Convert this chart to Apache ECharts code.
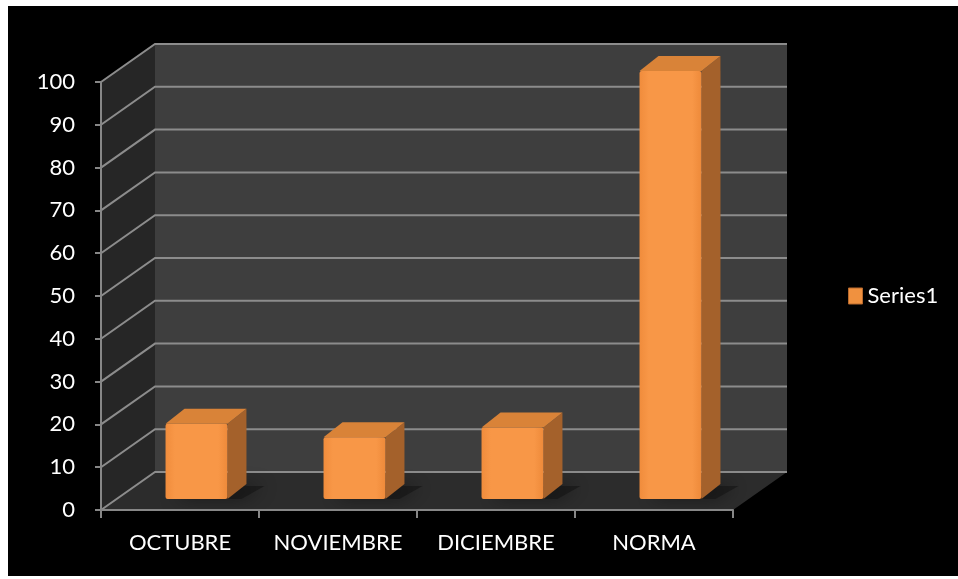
<!DOCTYPE html>
<html>
<head>
<meta charset="utf-8">
<script src="https://cdn.jsdelivr.net/npm/echarts@6/dist/echarts.min.js"></script>
<style>
html,body{margin:0;padding:0;background:#fff;}
#chart{width:958px;height:579px;}
</style>
</head>
<body>
<div id="chart"></div>
<script>
// ---- data ----
const categories = ['OCTUBRE', 'NOVIEMBRE', 'DICIEMBRE', 'NORMA'];
const seriesName = 'Series1';
const values = [17.6, 14.4, 16.7, 100];
const yTicks = [0, 10, 20, 30, 40, 50, 60, 70, 80, 90, 100];

// ---- projection style constants (pixels) ----
const DX = 54, DY = -38;          // full depth of the 3D box
const FDX = 16.5, FDY = -11;      // bar front face offset
const BDX = 35.5, BDY = -26;      // bar back face offset
const BAR_FRAC = 0.392;

const chart = echarts.init(document.getElementById('chart'), null, {renderer: 'canvas'});

function renderWalls(params, api) {
  const cs = params.coordSys;
  const L = cs.x, R = cs.x + cs.width, T = cs.y, B = cs.y + cs.height;
  return {
    type: 'group',
    children: [
      {type: 'polygon', shape: {points: [[L, B], [R, B], [R + DX, B + DY], [L + DX, B + DY]]}, style: {fill: '#2c2c2c'}},
      {type: 'polygon', shape: {points: [[L, B], [L + DX, B + DY], [L + DX, T + DY], [L, T]]}, style: {fill: '#262626'}},
      {type: 'polygon', shape: {points: [[L + DX, B + DY], [R + DX, B + DY], [R + DX, T + DY], [L + DX, T + DY]]}, style: {fill: '#3e3e3e'}}
    ]
  };
}

function renderGridLine(params, api) {
  const cs = params.coordSys;
  const y = api.coord([0, api.value(1)])[1];
  return {
    type: 'polyline',
    shape: {points: [[cs.x, y], [cs.x + DX, y + DY], [cs.x + cs.width + DX, y + DY]]},
    style: {stroke: '#8c8c8c', lineWidth: 2, fill: null}
  };
}

function renderBar(params, api) {
  const i = api.value(0), v = api.value(1);
  const base = api.coord([i, 0]);
  const top = api.coord([i, v]);
  const bw = api.size([1, 0])[0] * BAR_FRAC;
  const x0 = base[0] - bw / 2 + FDX, x1 = x0 + bw;
  const yb = base[1] + FDY, yt = top[1] + FDY;
  const bx = BDX - FDX, by = BDY - FDY;
  return {
    type: 'group',
    children: [
      {type: 'polygon', shape: {points: [[x0 + 8, yb], [x1 + 14, yb], [x1 + bx + 18, yb + by + 2], [x0 + bx + 6, yb + by + 2]]},
        style: {fill: 'rgba(18,18,18,0.55)', shadowBlur: 18, shadowColor: 'rgba(0,0,0,0.8)'}},
      {type: 'polygon', shape: {points: [[x1, yt], [x1 + bx, yt + by], [x1 + bx, yb + by], [x1, yb]]},
        style: {fill: '#a4612b'}},
      {type: 'polygon', shape: {points: [[x0, yt], [x1, yt], [x1 + bx, yt + by], [x0 + bx, yt + by]]},
        style: {fill: '#d98338'}},
      {type: 'rect', shape: {x: x0, y: yt, width: bw, height: yb - yt, r: 2},
        style: {fill: new echarts.graphic.LinearGradient(0, 0, 1, 0, [
          {offset: 0, color: '#f08c3c'}, {offset: 0.15, color: '#f89747'},
          {offset: 0.85, color: '#f89747'}, {offset: 1, color: '#ee8a3a'}])}}
    ]
  };
}

const font = 'Lato, "Open Sans", sans-serif';
const axisColor = '#878787';

chart.setOption({
  backgroundColor: '#ffffff',
  animation: false,
  graphic: [{type: 'rect', z: -10, shape: {x: 8, y: 6, width: 950, height: 570}, style: {fill: '#000'}}],
  grid: {left: 101, top: 82, width: 632, height: 428},
  legend: {
    data: [seriesName], left: 843, top: 280, itemWidth: 14, itemHeight: 16, itemGap: 5,
    icon: 'rect',
    itemStyle: {color: '#f0913f', borderColor: '#b8692c', borderWidth: 1},
    textStyle: {color: '#ffffff', fontSize: 22, fontFamily: font}
  },
  xAxis: {
    type: 'category', data: categories, z: 10,
    axisLine: {lineStyle: {color: axisColor, width: 2}},
    axisTick: {show: true, interval: 0, length: 8, lineStyle: {color: axisColor, width: 2}},
    axisLabel: {color: '#ffffff', fontSize: 22, fontFamily: font, margin: 22, interval: 0},
    splitLine: {show: false}
  },
  yAxis: {
    type: 'value', min: 0, max: 100, interval: 10, z: 10,
    axisLine: {show: true, lineStyle: {color: axisColor, width: 2}},
    axisTick: {show: true, length: 6, lineStyle: {color: axisColor, width: 2}},
    axisLabel: {color: '#ffffff', fontSize: 22, fontFamily: font, margin: 26, padding: [5, 0, 0, 0]},
    splitLine: {show: false}
  },
  series: [
    {type: 'custom', name: '_walls', renderItem: renderWalls, data: [[0, 0]], silent: true, z: 1},
    {type: 'custom', name: '_grid', renderItem: renderGridLine, data: yTicks.map(v => [0, v]), silent: true, z: 2},
    {type: 'custom', name: seriesName, renderItem: renderBar, itemStyle: {color: '#f79646'},
      data: values.map((v, i) => [i, v]), encode: {x: 0, y: 1}, z: 3}
  ]
});
</script>
</body>
</html>
